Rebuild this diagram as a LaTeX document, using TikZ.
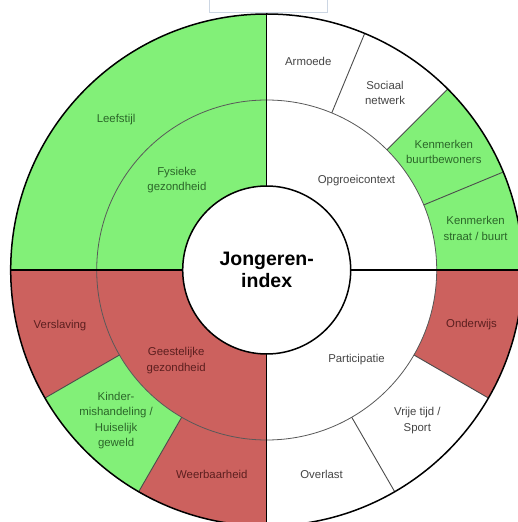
\documentclass[tikz,border=0pt]{standalone}
\usepackage{fontspec}
\setmainfont{Liberation Sans}
\usepackage{tikz}
\definecolor{leafgreen}{rgb}{0.51,0.94,0.47}
\definecolor{alarmred}{rgb}{0.80,0.38,0.37}
\definecolor{txtgrey}{rgb}{0.27,0.27,0.27}
\definecolor{txtgreen}{rgb}{0.17,0.40,0.16}
\definecolor{txtred}{rgb}{0.36,0.12,0.12}
\definecolor{framegrey}{rgb}{0.80,0.84,0.89}
\tikzset{
  seglabel/.style={align=center,inner sep=0pt,font=\fontsize{11.4}{15.3}\selectfont},
  onwhite/.style={seglabel,text=txtgrey},
  ongreen/.style={seglabel,text=txtgreen},
  onred/.style={seglabel,text=txtred},
  ringline/.style={draw=black!65,line width=0.8pt},
  divline/.style={draw=black!70,line width=0.9pt},
  quadline/.style={draw=black,line width=1.3pt},
  rimline/.style={draw=black,line width=1.5pt},
  hubnode/.style={circle,draw=black,line width=1.5pt,fill=white,minimum size=168pt,
    inner sep=0pt,align=center,font=\bfseries\fontsize{19.5}{22}\selectfont}
}
\newcommand{\drawsegment}[5]{
  \fill[#5] (#1:#3) arc[start angle=#1, end angle=#2, radius=#3]
    -- (#2:#4) arc[start angle=#2, end angle=#1, radius=#4] -- cycle;
}

\begin{document}
\begin{tikzpicture}[x=1pt,y=1pt]
      \useasboundingbox (-266.7,-252) rectangle (251.3,270);
      \clip (-266.7,-252) rectangle (251.3,270);
      \fill[white] (-266.7,-252) rectangle (251.3,270);
      %% frame edge at the top
      \draw[framegrey,line width=1pt] (-56.7,275) -- (-56.7,257) -- (60.3,257) -- (60.3,275);
      %% filled segments
      \drawsegment{90}{180}{84}{256}{leafgreen}
      \drawsegment{0}{45}{170}{256}{leafgreen}
      \drawsegment{-30}{0}{170}{256}{alarmred}
      \drawsegment{180}{270}{84}{256}{alarmred}
      \drawsegment{210}{240}{170}{256}{leafgreen}
      \draw[ringline] (0,0) circle[radius=170];
      %% dividers in the outer ring
      \draw[divline] (22.5:170) -- (22.5:256);
      \draw[divline] (45:170) -- (45:256);
      \draw[divline] (67.5:170) -- (67.5:256);
      \draw[divline] (-30:170) -- (-30:256);
      \draw[divline] (-60:170) -- (-60:256);
      \draw[divline] (210:170) -- (210:256);
      \draw[divline] (240:170) -- (240:256);
      \draw[quadline] (-256,0) -- (256,0);
      \draw[quadline] (0,-256) -- (0,256);
      \draw[rimline] (0,0) circle[radius=256];
      \node[hubnode] (hub) at (0,0) {Jongeren-\\index};
      %% inner ring
      \node[ongreen] (fysiek) at (135:127) {Fysieke\\gezondheid};
      \node[onwhite] (opgroei) at (45:127) {Opgroeicontext};
      \node[onwhite] (particip) at (-45:127) {Participatie};
      \node[onred] (geest) at (225:128) {Geestelijke\\gezondheid};
      %% outer ring
      \node[ongreen] (leefstijl) at (135:213) {Leefstijl};
      \node[onwhite] (armoede) at (78.75:213) {Armoede};
      \node[onwhite] (sociaal) at (56.25:213) {Sociaal\\netwerk};
      \node[ongreen] (bewoners) at (33.75:213) {Kenmerken\\buurtbewoners};
      \node[ongreen] (straat) at (11.25:213) {Kenmerken\\straat / buurt};
      \node[onred] (onderwijs) at (-15:212) {Onderwijs};
      \node[onwhite] (vrijetijd) at (-45:213) {Vrije tijd /\\Sport};
      \node[onwhite] (overlast) at (-75:212) {Overlast};
      \node[onred] (verslaving) at (195:214) {Verslaving};
      \node[ongreen] (kinder) at (225:213) {Kinder-\\mishandeling /\\Huiselijk\\geweld};
      \node[onred] (weerbaar) at (255:212) {Weerbaarheid};
\end{tikzpicture}
\end{document}
